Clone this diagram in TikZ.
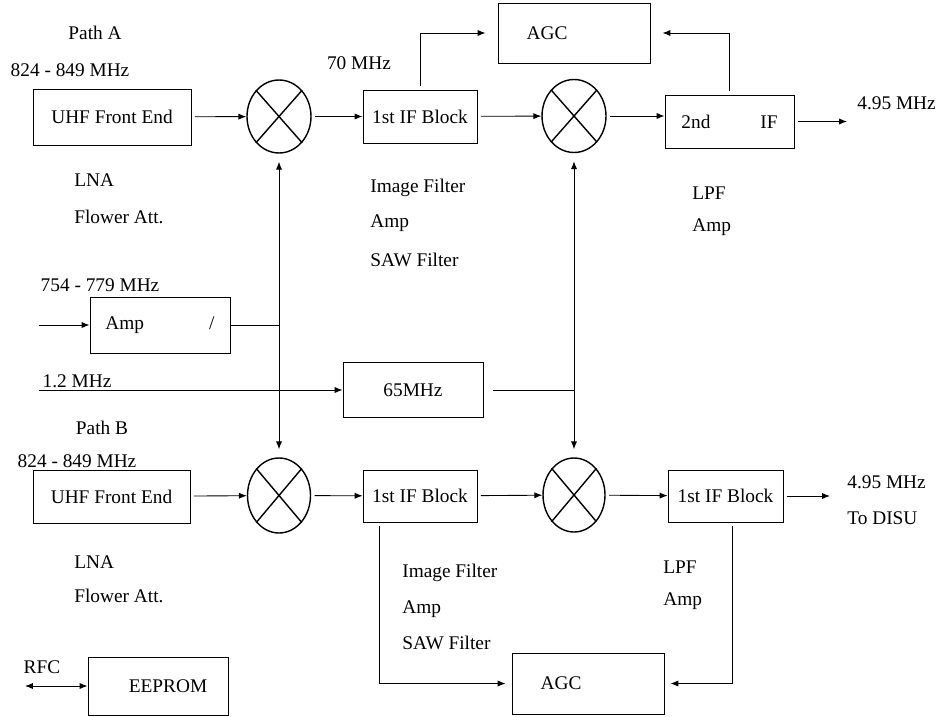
\documentclass[tikz,border=0pt]{standalone}
\usepackage{fontspec}
\setmainfont{Liberation Serif}
\usetikzlibrary{shapes.geometric,arrows.meta}

\begin{document}
\begin{tikzpicture}[x=0.02cm, y=-0.02cm, >={Latex[length=4.5pt,width=3.5pt]},
  font=\fontsize{11}{13}\selectfont,
  blk/.style={draw, line width=0.5pt, inner sep=0pt},
  mix/.style={draw, ellipse, line width=0.8pt, inner sep=0pt, minimum width=1.28cm, minimum height=1.46cm},
  sig/.style={->, line width=0.5pt, shorten <=2pt},
  lbl/.style={inner sep=0pt}]
\useasboundingbox (0,0) rectangle (945,716);

\node[blk, minimum width=3.16cm, minimum height=1.12cm] (uhfA) at (112,117) {UHF Front End};
\node[mix] (mixA1) at (279,116.5) {};
\node[blk, minimum width=2.28cm, minimum height=1.06cm] (ifA1) at (420,116.5) {1st IF Block};
\node[blk, minimum width=3.04cm, minimum height=1.2cm] (agcA) at (574,33) {AGC\hspace{1.08cm}\mbox{}};
\node[mix] (mixA2) at (574,116) {};
\node[blk, minimum width=2.58cm, minimum height=1.06cm] (ifA2) at (729.5,121.5) {2nd\hspace{1.0cm}IF};
\coordinate (outA) at (847,121.5);

\node[blk, minimum width=2.8cm, minimum height=1.12cm] (ampLO) at (160,325) {Amp\hspace{1.3cm}/};
\node[blk, minimum width=2.8cm, minimum height=1.1cm] (lo65) at (413,390) {65MHz};
\coordinate (ampIn) at (35,325);
\coordinate (refIn) at (35,390);

\node[blk, minimum width=3.14cm, minimum height=1.06cm] (uhfB) at (111.5,496.5) {UHF Front End};
\node[mix, minimum width=1.26cm, minimum height=1.5cm] (mixB1) at (279,495.5) {};
\node[blk, minimum width=2.28cm, minimum height=1.04cm] (ifB1) at (420,496) {1st IF Block};
\node[mix, minimum width=1.24cm, minimum height=1.48cm] (mixB2) at (574,495) {};
\node[blk, minimum width=2.3cm, minimum height=1.04cm] (ifB2) at (725.5,496) {1st IF Block};
\node[blk, minimum width=3.04cm, minimum height=1.22cm] (agcB) at (588,683.5) {AGC\hspace{1.08cm}\mbox{}};
\coordinate (outB) at (830,496);

\node[blk, minimum width=2.8cm, minimum height=1.16cm] (eeprom) at (158,686) {\hspace{0.4cm}EEPROM};
\coordinate (rfcEnd) at (25,686);

\foreach \m in {mixA1,mixA2,mixB1,mixB2}
  \draw[line width=0.8pt] (\m.north west) -- (\m.south east) (\m.north east) -- (\m.south west);

\node[lbl] (pathA) at (95,33) {Path A};
\node[lbl] (bandA) at (70,70) {824 - 849 MHz};
\node[lbl, anchor=west] (lnaA) at (74,180) {LNA};
\node[lbl, anchor=west] (attA) at (74,217) {Flower Att.};
\node[lbl] (ifFreq) at (359,63) {70 MHz};
\node[lbl, anchor=west] (imgA) at (370,188) {Image Filter};
\node[lbl, anchor=west] (ampA) at (370,223) {Amp};
\node[lbl, anchor=west] (sawA) at (370,260) {SAW Filter};
\node[lbl, anchor=west] (lpfA) at (692,193) {LPF};
\node[lbl, anchor=west] (amp2A) at (692,227) {Amp};
\node[lbl, anchor=west] (outLblA) at (857,103) {4.95 MHz};
\node[lbl] (loBand) at (100,285) {754 - 779 MHz};
\node[lbl] (refLbl) at (77,381) {1.2 MHz};
\node[lbl] (pathB) at (102,428) {Path B};
\node[lbl] (bandB) at (77,461) {824 - 849 MHz};
\node[lbl, anchor=west] (lnaB) at (74,562) {LNA};
\node[lbl, anchor=west] (attB) at (74,596) {Flower Att.};
\node[lbl, anchor=west] (imgB) at (402,573) {Image Filter};
\node[lbl, anchor=west] (ampB) at (402,609) {Amp};
\node[lbl, anchor=west] (sawB) at (402,643) {SAW Filter};
\node[lbl, anchor=west] (lpfB) at (663,567) {LPF};
\node[lbl, anchor=west] (amp2B) at (663,601) {Amp};
\node[lbl, anchor=west] (outLblB) at (847,482) {4.95 MHz};
\node[lbl, anchor=west] (disu) at (847,518) {To DISU};
\node[lbl] (rfc) at (42,667) {RFC};

\draw[sig] (uhfA) -- (mixA1);
\draw[sig] (mixA1) -- (ifA1);
\draw[sig] (ifA1) -- (mixA2);
\draw[sig] (mixA2.east) -- (mixA2.east -| ifA2.west);
\draw[sig] (ifA2) -- (outA);
\draw[sig, shorten >=0.24cm] (ifA1.north) |- (agcA.west);
\draw[sig, shorten >=0.24cm] (ifA2.north) |- (agcA.east);

\draw[<->, line width=0.5pt, shorten <=0.16cm, shorten >=0.16cm] (mixA1) -- (mixB1);
\draw[<->, line width=0.5pt, shorten <=0.16cm, shorten >=0.16cm] (mixA2) -- (mixB2);
\draw[sig] (ampIn) -- (ampLO);
\draw[line width=0.5pt] (ampLO.east) -- (ampLO.east -| mixA1);
\draw[sig] (refIn) -- (lo65);
\draw[line width=0.5pt, shorten <=0.2cm] (lo65.east) -- (lo65.east -| mixA2);

\draw[sig] (uhfB) -- (mixB1);
\draw[sig] (mixB1) -- (ifB1);
\draw[sig] (ifB1) -- (mixB2);
\draw[sig] (mixB2) -- (ifB2);
\draw[sig] (ifB2) -- (outB);
\draw[sig, shorten >=0.12cm] (ifB1.south west) ++(17,0) |- (agcB.west);
\draw[sig, shorten >=0.12cm] (ifB2.south west) ++(65,0) |- (agcB.east);

\draw[<->, line width=0.5pt] (rfcEnd) -- (eeprom);
\end{tikzpicture}
\end{document}
